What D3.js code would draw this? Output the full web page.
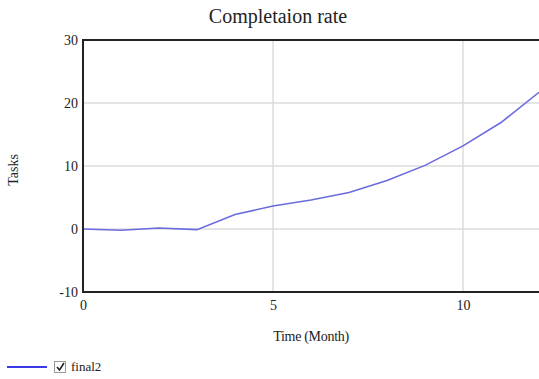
<!DOCTYPE html>
<html><head><meta charset="utf-8">
<script src="https://cdn.jsdelivr.net/npm/d3@7"></script>
<style>body{margin:0;background:#fff}svg{display:block}text{font-family:"Liberation Serif","Times New Roman",serif;fill:#222}</style>
</head><body><svg id="c" width="539" height="379"></svg>
<script>
const months = [0,1,2,3,4,5,6,7,8,9,10,11,12];
const final2 = [0,-0.2,0.15,-0.1,2.3,3.65,4.6,5.8,7.7,10.1,13.2,16.9,21.7];
const xTicks = [0,5,10];
const yTicks = [-10,0,10,20,30];
const title = "Completaion rate";
const xLabel = "Time (Month)";
const yLabel = "Tasks";
const seriesName = "final2";

const svg = d3.select("#c");
const L=83, T=40, R=539, B=292;
const x = d3.scaleLinear().domain([0,12]).range([L,R]);
const y = d3.scaleLinear().domain([-10,30]).range([B,T]);

// grid
svg.append("g").selectAll("line").data(xTicks.filter(d=>d>0)).join("line")
  .attr("x1",d=>x(d)).attr("x2",d=>x(d)).attr("y1",T).attr("y2",B)
  .attr("stroke","#dcdcdc").attr("stroke-width",1.5);
svg.append("g").selectAll("line").data(yTicks.filter(d=>d>-10&&d<30)).join("line")
  .attr("x1",L).attr("x2",R).attr("y1",d=>y(d)).attr("y2",d=>y(d))
  .attr("stroke","#dcdcdc").attr("stroke-width",1.5);

// line
svg.append("path").datum(months.map((m,i)=>[m,final2[i]]))
  .attr("fill","none").attr("stroke","#6b6be0").attr("stroke-width",1.6)
  .attr("d",d3.line().x(d=>x(d[0])).y(d=>y(d[1])));

// frame
svg.append("path").attr("d",`M${R},${T}H${L}V${B}H${R}`)
  .attr("fill","none").attr("stroke","#222").attr("stroke-width",2);

// axes labels
const yAxis = d3.axisLeft(y).tickValues(yTicks).tickSize(0).tickPadding(5).tickFormat(d=>String(d));
const gy = svg.append("g").attr("transform",`translate(${L},0)`).call(yAxis);
gy.select(".domain").remove();
gy.selectAll("text").attr("font-size",14).attr("font-family","Liberation Serif").attr("fill","#222");
const xAxis = d3.axisBottom(x).tickValues(xTicks).tickSize(0).tickPadding(8).tickFormat(d=>String(d));
const gx = svg.append("g").attr("transform",`translate(0,${B})`).call(xAxis);
gx.select(".domain").remove();
gx.selectAll("text").attr("font-size",14).attr("font-family","Liberation Serif").attr("fill","#222");

svg.append("text").attr("x",278).attr("y",23).attr("text-anchor","middle").attr("font-size",20).text(title);
svg.append("text").attr("x",311).attr("y",341).attr("text-anchor","middle").attr("font-size",14).attr("letter-spacing",-0.3).text(xLabel);
svg.append("text").attr("transform","translate(18,170) rotate(-90)").attr("text-anchor","middle").attr("font-size",14).text(yLabel);

// legend
const lg = svg.append("g");
lg.append("line").attr("x1",7).attr("x2",47).attr("y1",367).attr("y2",367).attr("stroke","#3a3ae8").attr("stroke-width",2);
lg.append("rect").attr("x",54.5).attr("y",361.5).attr("width",11).attr("height",11).attr("fill","#fff").attr("stroke","#999");
lg.append("path").attr("d","M57,367 L59.5,370 L64,363").attr("fill","none").attr("stroke","#222").attr("stroke-width",1.6);
lg.append("text").attr("x",71).attr("y",371).attr("font-size",13).text(seriesName);
</script></body></html>
